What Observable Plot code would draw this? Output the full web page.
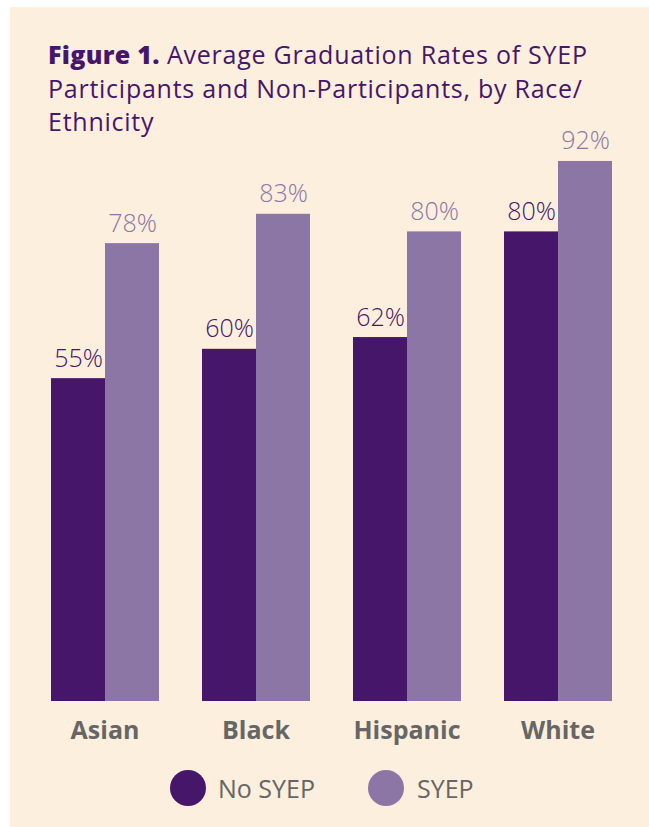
<!DOCTYPE html>
<html>
<head>
<meta charset="utf-8">
<script src="https://cdn.jsdelivr.net/npm/d3@7"></script>
<script src="https://cdn.jsdelivr.net/npm/@observablehq/plot@0.6"></script>
<style>
  html, body { margin: 0; padding: 0; background: #ffffff; width: 649px; height: 827px; overflow: hidden; }
  #panel { position: absolute; left: 10px; top: 7px; width: 639px; height: 820px; background: #FDEFDD; }
  #chart { position: absolute; left: 0; top: 0; }
  #title { position: absolute; left: 48px; top: 38px; font-family: "Open Sans", sans-serif; font-size: 25px; letter-spacing: 0.75px; line-height: 33.5px; color: #45166A; z-index: 2; white-space: nowrap; }
  #title b { font-weight: 800; letter-spacing: 0.3px; }
  .sw { position: absolute; width: 36px; height: 36px; border-radius: 50%; top: 770px; }
  .lt { position: absolute; top: 771px; font-family: "Open Sans", sans-serif; font-size: 25px; line-height: 34px; color: #666666; }
</style>
</head>
<body>
<div id="panel"></div>
<div id="chart"></div>
<div id="title"><b>Figure 1.</b> Average Graduation Rates of SYEP<br>Participants and Non-Participants, by Race/<br>Ethnicity</div>
<div id="legend"></div>
<script>
const categories = ["Asian", "Black", "Hispanic", "White"];
const series = ["No SYEP", "SYEP"];
const noSyep = [55, 60, 62, 80];
const syep = [78, 83, 80, 92];
const colors = ["#45166A", "#8B76A6"];

const data = [];
categories.forEach((c, i) => {
  data.push({group: c, series: series[0], value: noSyep[i]});
  data.push({group: c, series: series[1], value: syep[i]});
});

const chart = Plot.plot({
  width: 649,
  height: 760,
  marginLeft: 48,
  marginRight: 35,
  marginTop: 114,
  marginBottom: 59,
  style: {background: "transparent", fontFamily: "'Open Sans', sans-serif"},
  fx: {domain: categories, paddingInner: 0.276, paddingOuter: 0, axis: null},
  x: {domain: series, padding: 0, axis: null},
  y: {domain: [0, 100], axis: null},
  color: {domain: series, range: colors},
  marks: [
    Plot.barY(data, {fx: "group", x: "series", y: "value", fill: "series"}),
    Plot.text(data, {fx: "group", x: "series", y: "value", text: d => d.value + "%", dy: -20, fontSize: 25, fontWeight: 300, fill: "series"}),
    Plot.axisFx({anchor: "bottom", tickSize: 0, tickPadding: 20, fontSize: 25, fontWeight: "bold", color: "#666666", label: null})
  ]
});
document.getElementById("chart").appendChild(chart);

// legend built from the series/colors arrays
const legend = document.getElementById("legend");
const swX = [170, 368], txX = [218, 417];
series.forEach((s, i) => {
  const sw = document.createElement("div");
  sw.className = "sw"; sw.style.left = swX[i] + "px"; sw.style.background = colors[i];
  const t = document.createElement("div");
  t.className = "lt"; t.style.left = txX[i] + "px"; t.textContent = s;
  legend.appendChild(sw); legend.appendChild(t);
});
</script>
</body>
</html>
